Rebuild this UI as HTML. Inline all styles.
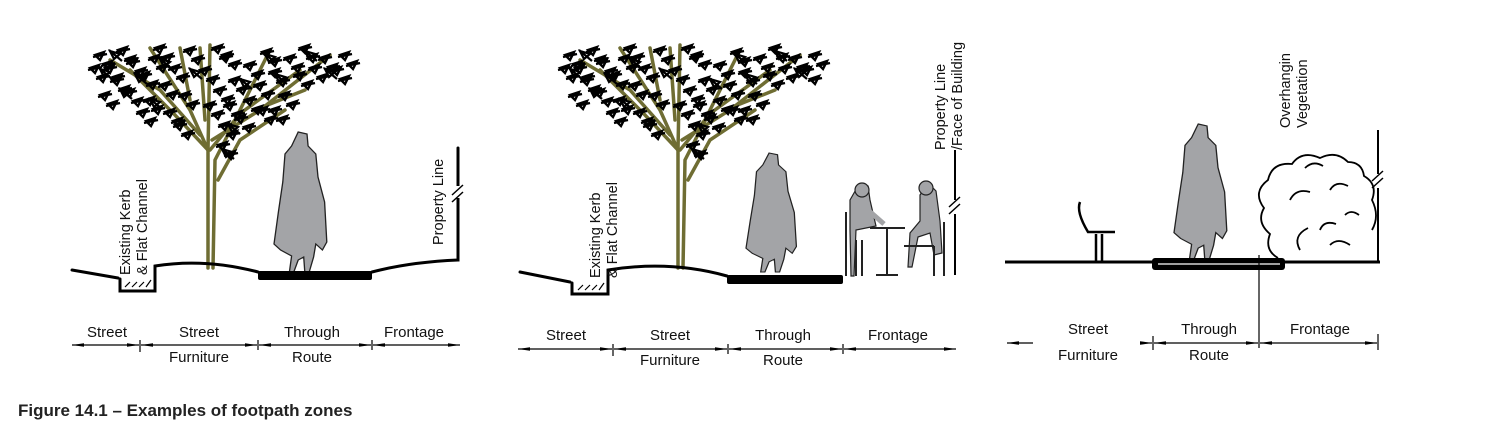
<!DOCTYPE html>
<html><head><meta charset="utf-8"><style>
body{margin:0;background:#fff;width:1494px;height:441px;overflow:hidden}
svg{display:block}
text{font-family:"Liberation Sans Narrow","Liberation Sans",Arial,sans-serif;fill:#111}
.lbl{font-size:15px;text-anchor:middle}
.rot{font-size:14.5px}
</style></head><body>
<svg width="1494" height="441" viewBox="0 0 1494 441">
<defs>
<g id="leaf"><path d="M0 0 L9 -3 L5 5 Z M-2 2 L12 -1" fill="none" stroke="#000" stroke-width="2.4"/></g>
<g id="leaf2"><path d="M0 0 L-4 -8 L6 -5 Z M-5 -9 L8 2" fill="none" stroke="#000" stroke-width="2.2"/></g>
<marker id="ar" viewBox="0 0 10 6" refX="10" refY="3" markerWidth="10" markerHeight="6" orient="auto-start-reverse"><path d="M0 1.5 L10 3 L0 4.5Z" fill="#000"/></marker>
<g id="leaves">
<use href="#leaf" x="95" y="55"/><use href="#leaf" x="105" y="68"/><use href="#leaf" x="118" y="50"/><use href="#leaf" x="128" y="62"/><use href="#leaf" x="112" y="80"/>
<use href="#leaf" x="100" y="95"/><use href="#leaf" x="125" y="92"/><use href="#leaf" x="140" y="75"/><use href="#leaf" x="150" y="58"/><use href="#leaf" x="160" y="85"/>
<use href="#leaf" x="145" y="100"/><use href="#leaf" x="138" y="112"/><use href="#leaf" x="170" y="68"/><use href="#leaf" x="180" y="95"/><use href="#leaf" x="165" y="112"/>
<use href="#leaf" x="185" y="50"/><use href="#leaf" x="200" y="70"/><use href="#leaf" x="215" y="90"/><use href="#leaf" x="222" y="55"/><use href="#leaf" x="230" y="80"/>
<use href="#leaf" x="225" y="105"/><use href="#leaf" x="220" y="125"/><use href="#leaf" x="218" y="145"/><use href="#leaf" x="236" y="118"/><use href="#leaf" x="245" y="65"/>
<use href="#leaf" x="255" y="85"/><use href="#leaf" x="262" y="52"/><use href="#leaf" x="270" y="72"/><use href="#leaf" x="280" y="95"/><use href="#leaf" x="285" y="58"/>
<use href="#leaf" x="295" y="75"/><use href="#leaf" x="300" y="48"/><use href="#leaf" x="310" y="68"/><use href="#leaf" x="320" y="58"/><use href="#leaf" x="332" y="70"/>
<use href="#leaf" x="340" y="55"/><use href="#leaf" x="258" y="110"/><use href="#leaf" x="175" y="125"/><use href="#leaf" x="245" y="100"/><use href="#leaf" x="205" y="105"/>
<use href="#leaf" x="90" y="68"/><use href="#leaf" x="155" y="48"/><use href="#leaf" x="270" y="110"/><use href="#leaf" x="213" y="48"/>
</g>
<g id="tree">
<g stroke="#6f6d33" stroke-width="3.5" fill="none" stroke-linecap="round">
<path d="M208 268 L208 150 L190 110 L150 48"/>
<path d="M208 150 L175 115 L130 70"/>
<path d="M208 150 L210 45"/>
<path d="M210 150 L235 120 L270 50"/>
<path d="M212 140 L260 110 L330 55"/>
<path d="M213 268 L215 160 L238 115 L300 70"/>
<path d="M200 135 L160 90 L110 60"/>
<path d="M218 180 L240 140 L285 110"/>
<path d="M205 120 L200 48"/>
<path d="M255 110 L305 90"/>
<path d="M190 100 L180 48"/>
</g>
<use href="#leaves"/>
<use href="#leaves" transform="translate(8,9)"/>
<g transform="translate(4,-3)">
<use href="#leaf2" x="110" y="62"/><use href="#leaf2" x="135" y="85"/><use href="#leaf2" x="160" y="70"/><use href="#leaf2" x="190" y="80"/><use href="#leaf2" x="240" y="90"/>
<use href="#leaf2" x="275" y="85"/><use href="#leaf2" x="305" y="62"/><use href="#leaf2" x="120" y="100"/><use href="#leaf2" x="228" y="135"/><use href="#leaf2" x="222" y="160"/>
<use href="#leaf2" x="150" y="110"/><use href="#leaf2" x="265" y="65"/><use href="#leaf2" x="325" y="80"/><use href="#leaf2" x="100" y="80"/>
</g>
</g>
<path id="person" d="M22 0 L30 2 L31 14 L38 22 L40 45 L46 70 L48 110 L44 118 L38 112 L36 125 L32 140 L28 140 L27 125 L22 128 L18 140 L14 140 L16 124 L6 118 L0 112 L4 80 L8 50 L10 22 L16 14 Z" fill="#a3a4a7" stroke="#222" stroke-width="1.2"/>
</defs>

<!-- PANEL 1 -->
<use href="#tree"/>
<use href="#person" transform="translate(274,132) scale(1.1,1)"/>
<g fill="none" stroke="#000" stroke-width="3" stroke-linecap="round">
<path d="M72 270 L118 278"/>
<path d="M120 279 L120 291 L155 291 L155 266 Q205 258 258 272"/>
<path d="M372 272 Q410 262 458 260 L458 148"/>
</g>
<rect x="258" y="271" width="114" height="9" rx="2" fill="#000"/>
<path d="M125 287 L130 282 M132 287 L137 282 M139 287 L144 282 M146 287 L151 280" stroke="#000" stroke-width="1.2"/>
<rect x="454" y="186" width="8" height="12" fill="#fff"/>
<path d="M452 195 L463 185 M452 202 L463 192" stroke="#000" stroke-width="1.5"/>
<text class="rot" transform="translate(130,275) rotate(-90)">Existing  Kerb</text>
<text class="rot" transform="translate(147,275) rotate(-90)">&amp; Flat Channel</text>
<text class="rot" transform="translate(443,245) rotate(-90)">Property Line</text>
<g stroke="#000" stroke-width="1.2">
<line x1="72" y1="345" x2="139" y2="345" marker-start="url(#ar)" marker-end="url(#ar)"/>
<line x1="141" y1="345" x2="257" y2="345" marker-start="url(#ar)" marker-end="url(#ar)"/>
<line x1="259" y1="345" x2="371" y2="345" marker-start="url(#ar)" marker-end="url(#ar)"/>
<line x1="373" y1="345" x2="460" y2="345" marker-start="url(#ar)" marker-end="url(#ar)"/>
<line x1="140" y1="340" x2="140" y2="352"/><line x1="258" y1="340" x2="258" y2="350"/><line x1="372" y1="340" x2="372" y2="350"/>
</g>
<text class="lbl" x="107" y="337">Street</text><text class="lbl" x="199" y="337">Street</text>
<text class="lbl" x="312" y="337">Through</text><text class="lbl" x="414" y="337">Frontage</text>
<text class="lbl" x="199" y="362">Furniture</text><text class="lbl" x="312" y="362">Route</text>

<!-- PANEL 2 -->
<use href="#tree" transform="translate(470,0)"/>
<use href="#person" transform="translate(746,153) scale(1.05,0.85)"/>
<g fill="none" stroke="#000" stroke-width="3" stroke-linecap="round">
<path d="M520 272 L570 282"/>
<path d="M572 283 L572 294 L608 294 L608 270 Q670 260 727 276"/>
</g>
<rect x="727" y="275" width="116" height="9" rx="2" fill="#000"/>
<path d="M578 290 L583 285 M585 290 L590 285 M592 290 L597 285 M599 290 L604 283" stroke="#000" stroke-width="1.2"/>
<line x1="955" y1="150" x2="955" y2="275" stroke="#000" stroke-width="2"/>
<rect x="950" y="200" width="10" height="14" fill="#fff"/>
<path d="M949 207 L960 197 M949 214 L960 204" stroke="#000" stroke-width="1.5"/>
<g stroke="#222" stroke-width="1.2">
<path d="M850 200 l8 -14 l10 0 l2 14 l6 26 l-20 4 l-2 46 l-3 0 l-1 -46z" fill="#a3a4a7"/>
<circle cx="862" cy="190" r="7" fill="#a3a4a7"/>
<path d="M868 210 l16 14" stroke-width="5" stroke="#a3a4a7"/>
<path d="M846 212 l0 64 M856 240 l0 36 M862 240 l0 36" fill="none" stroke-width="2"/>
<path d="M870 228 L905 228 M887 228 L887 275 M876 275 L898 275" fill="none" stroke-width="2"/>
<path d="M920 195 l8 -12 l8 8 l4 30 l2 32 l-8 2 l-4 -22 l-12 4 l-6 30 l-4 0 l2 -34 l10 -12 z" fill="#a3a4a7"/>
<circle cx="926" cy="188" r="7" fill="#a3a4a7"/>
<path d="M944 222 l0 54 M934 246 l0 30 M904 246 l30 0" fill="none" stroke-width="2"/>
</g>
<text class="rot" transform="translate(945,150) rotate(-90)">Property Line</text>
<text class="rot" transform="translate(962,150) rotate(-90)">/Face of Building</text>
<text class="rot" transform="translate(600,278) rotate(-90)">Existing  Kerb</text>
<text class="rot" transform="translate(617,278) rotate(-90)">&amp; Flat Channel</text>
<g stroke="#000" stroke-width="1.2">
<line x1="518" y1="349" x2="612" y2="349" marker-start="url(#ar)" marker-end="url(#ar)"/>
<line x1="614" y1="349" x2="727" y2="349" marker-start="url(#ar)" marker-end="url(#ar)"/>
<line x1="729" y1="349" x2="842" y2="349" marker-start="url(#ar)" marker-end="url(#ar)"/>
<line x1="844" y1="349" x2="956" y2="349" marker-start="url(#ar)" marker-end="url(#ar)"/>
<line x1="613" y1="344" x2="613" y2="356"/><line x1="728" y1="344" x2="728" y2="354"/><line x1="843" y1="344" x2="843" y2="354"/>
</g>
<text class="lbl" x="566" y="340">Street</text><text class="lbl" x="670" y="340">Street</text>
<text class="lbl" x="783" y="340">Through</text><text class="lbl" x="898" y="340">Frontage</text>
<text class="lbl" x="670" y="365">Furniture</text><text class="lbl" x="783" y="365">Route</text>

<!-- PANEL 3 -->
<use href="#person" transform="translate(1174,124) scale(1.1,0.97)"/>
<line x1="1005" y1="262" x2="1380" y2="262" stroke="#000" stroke-width="3"/>
<rect x="1152" y="258" width="133" height="12" rx="3" fill="#000"/>
<line x1="1158" y1="264" x2="1280" y2="264" stroke="#fff" stroke-width="1.2"/>
<line x1="1259" y1="255" x2="1259" y2="348" stroke="#000" stroke-width="1.2"/>
<line x1="1378" y1="130" x2="1378" y2="262" stroke="#000" stroke-width="2"/>
<rect x="1373" y="174" width="10" height="14" fill="#fff"/>
<path d="M1372 181 L1383 171 M1372 188 L1383 178" stroke="#000" stroke-width="1.5"/>
<g fill="none" stroke="#000" stroke-width="2.5">
<path d="M1080 202 Q1076 212 1088 232 L1115 232"/>
<path d="M1096 234 L1096 262 M1102 234 L1102 262"/>
</g>
<g fill="none" stroke="#000" stroke-width="1.8">
<path d="M1278 258 q-14 -8 -8 -24 q-14 -12 -6 -26 q-12 -16 4 -28 q4 -18 24 -16 q10 -14 28 -6 q16 -8 28 4 q14 0 16 14 q14 8 8 24 q8 16 0 30"/>
<path d="M1300 250 q-8 -14 8 -22 M1320 230 q4 -10 16 -6 M1290 200 q6 -12 20 -8 M1330 190 q6 -10 18 -4 M1345 215 q6 -6 14 0 M1305 168 q8 -8 18 -2 M1330 245 q8 -8 20 0"/>
</g>
<text class="rot" transform="translate(1290,128) rotate(-90)">Overhangin</text>
<text class="rot" transform="translate(1307,128) rotate(-90)">Vegetation</text>
<g stroke="#000" stroke-width="1.2">
<line x1="1007" y1="343" x2="1033" y2="343" marker-start="url(#ar)"/>
<line x1="1140" y1="343" x2="1152" y2="343" marker-end="url(#ar)"/>
<line x1="1154" y1="343" x2="1258" y2="343" marker-start="url(#ar)" marker-end="url(#ar)"/>
<line x1="1260" y1="343" x2="1377" y2="343" marker-start="url(#ar)" marker-end="url(#ar)"/>
<line x1="1153" y1="336" x2="1153" y2="350"/><line x1="1378" y1="334" x2="1378" y2="350"/>
</g>
<text class="lbl" x="1088" y="334">Street</text><text class="lbl" x="1088" y="360">Furniture</text>
<text class="lbl" x="1209" y="334">Through</text><text class="lbl" x="1209" y="360">Route</text>
<text class="lbl" x="1320" y="334">Frontage</text>

<text x="18" y="416" style="font-family:'Liberation Sans',Arial,sans-serif;font-size:17px;font-weight:bold;fill:#222">Figure 14.1 – Examples of footpath zones</text>
</svg>
</body></html>
